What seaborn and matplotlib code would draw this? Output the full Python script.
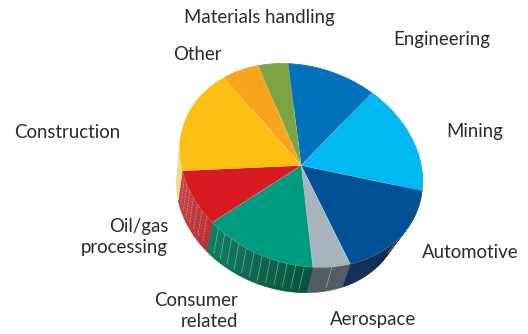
import numpy as np
import matplotlib
matplotlib.use("Agg")
import matplotlib.pyplot as plt
import seaborn as sns
from matplotlib.colors import to_rgb
from matplotlib.transforms import Affine2D

# Share of each market sector, clockwise from the top of the pie
sectors = ["Engineering", "Mining", "Automotive", "Aerospace", "Consumer related",
           "Oil/gas processing", "Construction", "Other", "Materials handling"]
shares = [11.6, 16.6, 16.9, 5.1, 14.6, 8.6, 17.4, 5.2, 4.0]
top_colors = ["#0072BC", "#00B9F2", "#005195", "#A7B4BC", "#009B7F",
              "#DA1A21", "#FDBF11", "#F9A51B", "#7BA542"]
# Side wall shading: colour at the clockwise start and end of each sector
wall_start = ["#005A94", "#0090BD", "#0F2C58", "#4F5B60", "#054F3C",
              "#B92F33", "#F8DC8C", "#D98F17", "#64873A"]
wall_end = ["#005A94", "#0090BD", "#0F2B52", "#4F5B60", "#0B7D60",
            "#C63E40", "#F8D77F", "#D98F17", "#64873A"]
rib_counts = [0, 0, 1, 1, 12, 7, 0, 0, 0]

label_text = ["Materials handling", "Engineering", "Other", "Mining", "Construction",
              "Oil/gas\nprocessing", "Consumer\nrelated", "Automotive", "Aerospace"]
label_xpx = [184, 393, 173, 446, 14, 168, 238, 422, 330]
label_ypx = [18, 39, 54, 132, 133, 237, 311, 252, 320]
label_align = ["left", "left", "left", "left", "left", "right", "right", "left", "left"]

W, H = 528, 334
CX, CY = 301.2, 165.5
START_ANGLE = 113.0
# The pie lies tilted: the unit circle maps to a slanted ellipse
TILT = Affine2D.from_values(116.3, -44.4, 35.1, 91.8, CX, H - CY)
# Lower rim of the side wall, in unit-circle terms
RIM_SCALE, RIM_DROP = 0.92, -0.363


def rim_point(deg, drop=RIM_DROP):
    """Point on the lower rim below the upper-rim angle deg (perspective skews the angle)."""
    wrapped = (deg + 240.0) % 360.0 - 240.0
    th = np.radians(deg + 0.07 * (wrapped + 120.0))
    return np.cos(th) * RIM_SCALE, np.sin(th) * RIM_SCALE + drop


sns.set_theme(style="white")
plt.rcParams["font.family"] = ["Lato", "DejaVu Sans"]

fig = plt.figure(figsize=(W / 100, H / 100), dpi=100)
ax = fig.add_axes([0, 0, 1, 1])
ax.set_xlim(0, W)
ax.set_ylim(0, H)
to_disp = TILT + ax.transData

# Side wall: thin quads between the upper rim and the lower rim
edges = START_ANGLE - np.cumsum([0] + shares) * 3.6
for i in range(len(shares)):
    a0, a1 = edges[i], edges[i + 1]
    steps = max(int(abs(a0 - a1)), 2)
    degs = np.linspace(a0, a1, steps + 1)
    c0, c1 = np.array(to_rgb(wall_start[i])), np.array(to_rgb(wall_end[i]))
    for k in range(steps):
        t = k / max(steps - 1, 1)
        col = tuple(c0 + (c1 - c0) * t)
        d0, d1 = degs[k], degs[k + 1]
        x0, y0 = np.cos(np.radians(d0)), np.sin(np.radians(d0))
        x1, y1 = np.cos(np.radians(d1)), np.sin(np.radians(d1))
        bx0, by0 = rim_point(d0)
        bx1, by1 = rim_point(d1)
        ax.fill([x0, x1, bx1, bx0], [y0, y1, by1, by0],
                color=col, lw=0.4, zorder=1, transform=to_disp)
    # Pale ribs pressed into the wall
    for r in range(rib_counts[i]):
        d = a0 + (a1 - a0) * (r + 1) / (rib_counts[i] + 1)
        bx, by = rim_point(d, RIM_DROP * 0.9)
        style = (0, (2.2, 1.2)) if sectors[i].startswith("Oil") else "-"
        ax.plot([np.cos(np.radians(d)), bx], [np.sin(np.radians(d)), by],
                color="white", alpha=0.38, lw=0.6, ls=style, zorder=2, transform=to_disp)

wedges, _ = ax.pie(shares, colors=top_colors, startangle=START_ANGLE, counterclock=False,
                   radius=1.0, wedgeprops={"linewidth": 0.25, "edgecolor": "#ffffff55"})
for w in wedges:
    w.set_zorder(3)
    w.set_transform(to_disp)

ax.set_aspect("auto")
ax.set_xlim(0, W)
ax.set_ylim(0, H)
ax.axis("off")

for txt, xp, yp, ha in zip(label_text, label_xpx, label_ypx, label_align):
    fig.text(xp / W, 1 - yp / H, txt, ha=ha, va="center", fontsize=13.4,
             color="#2b2b2b", linespacing=1.3, multialignment=ha)

fig.savefig("out.png", dpi=100, facecolor="white")
